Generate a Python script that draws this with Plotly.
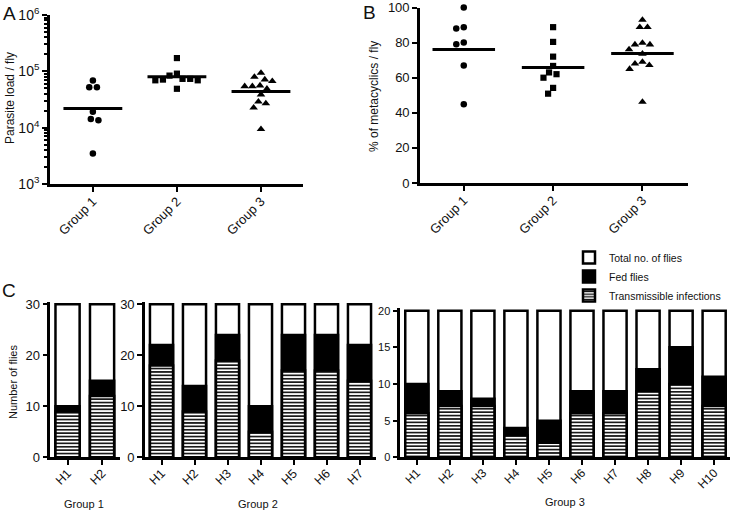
import math
import plotly.graph_objects as go

W, H = 733, 513

# ---------------- data ----------------
groups = ["Group 1", "Group 2", "Group 3"]

# Panel A: parasite load per fly
load_g1 = [68500, 52000, 52000, 19200, 14200, 13500, 3470]
load_g2 = [172000, 91000, 84000, 73500, 73500, 71400, 69300, 69300, 49000]
load_g3 = [93600, 79600, 71400, 66700, 56000, 54300, 54300, 49000, 38800,
           28900, 26900, 22600, 9400]
load_center = [22000, 80500, 43900]

# Panel B: % of metacyclics per fly
meta_g1 = [100, 88.8, 88.0, 80.0, 79.1, 66.9, 44.9]
meta_g2 = [88.8, 80.4, 72.0, 66.7, 63.0, 62.0, 60.0, 54.2, 50.9]
meta_g3 = [92.9, 88.8, 88.8, 79.8, 78.9, 78.9, 76.1, 73.6, 69.0, 68.0,
           67.1, 64.9, 46.2]
meta_center = [76.1, 65.8, 73.8]

# Panel C: number of flies per host
hosts_g1 = ["H1", "H2"]
total_g1 = [30, 30]
fed_g1 = [10, 15]
trans_g1 = [9, 12]

hosts_g2 = ["H1", "H2", "H3", "H4", "H5", "H6", "H7"]
total_g2 = [30, 30, 30, 30, 30, 30, 30]
fed_g2 = [22, 14, 24, 10, 24, 24, 22]
trans_g2 = [18, 9, 19, 5, 17, 17, 15]

hosts_g3 = ["H1", "H2", "H3", "H4", "H5", "H6", "H7", "H8", "H9", "H10"]
total_g3 = [20, 20, 20, 20, 20, 20, 20, 20, 20, 20]
fed_g3 = [10, 9, 8, 4, 5, 9, 9, 12, 15, 11]
trans_g3 = [6, 7, 7, 3, 2, 6, 6, 9, 10, 7]

# ---------------- helpers ----------------
FONT = "Liberation Sans, Arial, sans-serif"
TXT = "#111"


def px_x(p):
    return p / W


def px_y(p):
    return 1 - p / H


def beeswarm(ypx, D):
    """Offsets (px) so that markers at vertical pixel positions ypx don't overlap."""
    n = len(ypx)
    order = sorted(range(n), key=lambda i: -ypx[i])
    placed = []
    offs = [0.0] * n
    for i in order:
        forb = []
        for xj, yj in placed:
            dy = abs(ypx[i] - yj)
            if dy < D:
                dx = math.sqrt(D * D - dy * dy)
                forb.append((xj - dx, xj + dx))
        cands = [0.0] + [a for a, b in forb] + [b for a, b in forb]
        cands.sort(key=lambda c: (round(abs(c), 6), c))
        for c in cands:
            if not any(a + 1e-9 < c < b - 1e-9 for a, b in forb):
                offs[i] = c
                placed.append((c, ypx[i]))
                break
    return offs


# pixel geometry (for swarm spacing only)
A_X0, A_X1, A_RANGE = 49, 303, (-0.51, 2.5)
A_Y0, A_Y1 = 15, 185          # top (1e6), bottom (1e3)
B_X0, B_X1, B_RANGE = 419, 688, (-0.49, 2.51)
B_Y0, B_Y1 = 7.5, 184
A_PXU = (A_X1 - A_X0) / (A_RANGE[1] - A_RANGE[0])
B_PXU = (B_X1 - B_X0) / (B_RANGE[1] - B_RANGE[0])
A_PPD = (A_Y1 - A_Y0) / 3.0
B_PPV = (B_Y1 - B_Y0) / 100.0
D = 7.7

fig = go.Figure()

symbols = ["circle", "square", "triangle-up"]
msizes = [6.5, 6.2, 7.5]

# Panel A
for gi, vals in enumerate([load_g1, load_g2, load_g3]):
    ypx = [math.log10(v) * A_PPD for v in vals]
    offs = beeswarm(ypx, D)
    fig.add_trace(go.Scatter(
        x=[gi + o / A_PXU for o in offs], y=vals, mode="markers",
        marker=dict(symbol=symbols[gi], size=msizes[gi], color="black"),
        showlegend=False, cliponaxis=False, xaxis="x", yaxis="y"))
    fig.add_trace(go.Scatter(
        x=[gi - 0.35, gi + 0.35], y=[load_center[gi]] * 2, mode="lines",
        line=dict(color="black", width=3), showlegend=False,
        xaxis="x", yaxis="y"))

# Panel B
for gi, vals in enumerate([meta_g1, meta_g2, meta_g3]):
    ypx = [v * B_PPV for v in vals]
    offs = beeswarm(ypx, D)
    fig.add_trace(go.Scatter(
        x=[gi + o / B_PXU for o in offs], y=vals, mode="markers",
        marker=dict(symbol=symbols[gi], size=msizes[gi], color="black"),
        showlegend=False, cliponaxis=False, xaxis="x2", yaxis="y2"))
    fig.add_trace(go.Scatter(
        x=[gi - 0.35, gi + 0.35], y=[meta_center[gi]] * 2, mode="lines",
        line=dict(color="black", width=3), showlegend=False,
        xaxis="x2", yaxis="y2"))

# Panel C
pattern = dict(shape="-", size=3.4, solidity=0.45, fgcolor="black",
               bgcolor="white", fillmode="replace")
sets = [
    (hosts_g1, total_g1, fed_g1, trans_g1, "x3", "y3", True),
    (hosts_g2, total_g2, fed_g2, trans_g2, "x4", "y4", False),
    (hosts_g3, total_g3, fed_g3, trans_g3, "x5", "y5", False),
]
for hosts, tot, fed, tr, xa, ya, leg in sets:
    xs = list(range(len(hosts)))
    fig.add_trace(go.Bar(
        x=xs, y=tot, name="Total no. of flies", width=0.7,
        marker=dict(color="white", line=dict(color="black", width=2.5)),
        showlegend=leg, legendrank=1, xaxis=xa, yaxis=ya))
    fig.add_trace(go.Bar(
        x=xs, y=fed, name="Fed flies", width=0.7,
        marker=dict(color="black", line=dict(color="black", width=2.5)),
        showlegend=leg, legendrank=2, xaxis=xa, yaxis=ya))
    fig.add_trace(go.Bar(
        x=xs, y=tr, name="Transmissible infections", width=0.7,
        marker=dict(color="white", pattern=pattern,
                    line=dict(color="black", width=2.5)),
        showlegend=leg, legendrank=3, xaxis=xa, yaxis=ya))

# ---------------- axes ----------------
base = dict(showline=True, linecolor="black", linewidth=2.6, ticks="outside",
            ticklen=5, tickwidth=2.2, tickcolor="black", showgrid=False,
            zeroline=False, tickfont=dict(family=FONT, size=13, color=TXT),
            fixedrange=True, automargin=False, ticklabeloverflow="allow")


def f(size):
    return dict(family=FONT, size=size, color=TXT)


minor_vals = [m * 10 ** e for e in (3, 4, 5) for m in range(2, 10)]

C_BOT = 458.3
c12_top = C_BOT - 30.4 * (154.0 / 30)
c3_top = C_BOT - 20.3 * (147.6 / 20)

fig.update_layout(
    width=W, height=H, margin=dict(l=0, r=0, t=0, b=0, autoexpand=False),
    paper_bgcolor="white", plot_bgcolor="white",
    barmode="overlay", font=f(13),
    xaxis=dict(base, domain=[px_x(A_X0 + 1), px_x(A_X1)], range=list(A_RANGE),
               tickmode="array", tickvals=[0, 1, 2], ticktext=groups,
               tickangle=-45, ticklabelstandoff=-3, anchor="y"),
    yaxis=dict(base, domain=[px_y(A_Y1 - 1), px_y(A_Y0)], type="log",
               range=[3, 6], tickmode="array",
               tickvals=[1e3, 1e4, 1e5, 1e6],
               ticktext=["10<sup>3</sup>", "10<sup>4</sup>", "10<sup>5</sup>",
                         "10<sup>6</sup>"],
               tickfont=f(14),
               minor=dict(tickmode="array", tickvals=minor_vals,
                          ticks="outside", ticklen=3, tickwidth=1.5,
                          tickcolor="black"),
               anchor="x"),
    xaxis2=dict(base, domain=[px_x(B_X0 + 1), px_x(B_X1)], range=list(B_RANGE),
                tickmode="array", tickvals=[0, 1, 2], ticktext=groups,
                tickangle=-45, ticklabelstandoff=-3, anchor="y2"),
    yaxis2=dict(base, domain=[px_y(B_Y1 - 1), px_y(B_Y0)], range=[0, 100],
                tickmode="array", tickvals=[0, 20, 40, 60, 80, 100],
                anchor="x2"),
    xaxis3=dict(base, domain=[px_x(50.3), px_x(120)], range=[-0.5, 1.52],
                tickmode="array", tickvals=[0, 1], ticktext=hosts_g1,
                tickangle=-45, tickfont=f(12.5), ticklabelstandoff=-4,
                anchor="y3"),
    yaxis3=dict(base, domain=[px_y(C_BOT - 1), px_y(c12_top)], range=[0, 30.4],
                tickmode="array", tickvals=[0, 10, 20, 30], anchor="x3"),
    xaxis4=dict(base, domain=[px_x(145), px_x(376)], range=[-0.5, 6.5],
                tickmode="array", tickvals=list(range(7)), ticktext=hosts_g2,
                tickangle=-45, tickfont=f(12.5), ticklabelstandoff=-4,
                anchor="y4"),
    yaxis4=dict(base, domain=[px_y(C_BOT - 1), px_y(c12_top)], range=[0, 30.4],
                tickmode="array", tickvals=[0, 10, 20, 30], anchor="x4"),
    xaxis5=dict(base, domain=[px_x(400.3), px_x(730)], range=[-0.5, 9.48],
                tickmode="array", tickvals=list(range(10)), ticktext=hosts_g3,
                tickangle=-45, tickfont=f(12), ticklabelstandoff=-4,
                anchor="y5"),
    yaxis5=dict(base, domain=[px_y(C_BOT - 1), px_y(c3_top)], range=[0, 20.3],
                tickmode="array", tickvals=[0, 5, 10, 15, 20],
                tickfont=f(11), anchor="x5"),
    legend=dict(x=px_x(569), y=px_y(243), xanchor="left", yanchor="top",
                bgcolor="rgba(0,0,0,0)", font=f(10.5),
                traceorder="normal", tracegroupgap=0, itemwidth=30),
)

ann = []


def text(s, x, y, size=13, angle=0, xanchor="center", yanchor="middle"):
    ann.append(dict(text=s, x=px_x(x), y=px_y(y), xref="paper", yref="paper",
                    showarrow=False, textangle=angle, xanchor=xanchor,
                    yanchor=yanchor, font=f(size)))


text("A", 9.5, 13.5, size=19)
text("B", 369, 12, size=19)
text("C", 9, 290, size=19)
text("Parasite load / fly", 10, 98, size=12, angle=-90)
text("% of metacyclics / fly", 374, 97, size=12, angle=-90)
text("Number of flies", 13, 382, size=11, angle=-90)
text("Group 1", 84, 504, size=11)
text("Group 2", 258, 504, size=11)
text("Group 3", 565, 502, size=11)
fig.update_layout(annotations=ann)

fig.write_html(
    "out.html",
    config={"displayModeBar": False},
    post_script="document.body.style.margin='0';"
                "document.body.style.overflow='hidden';",
)
